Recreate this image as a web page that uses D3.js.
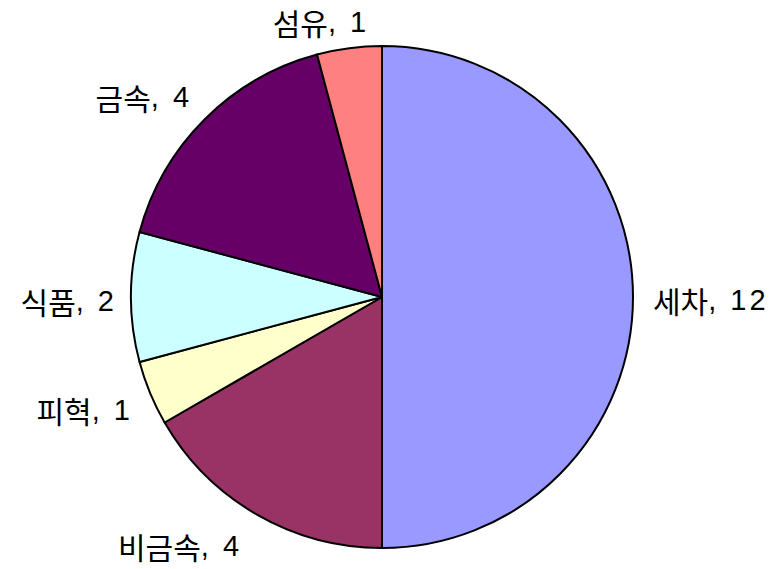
<!DOCTYPE html>
<html>
<head>
<meta charset="utf-8">
<script src="https://cdn.jsdelivr.net/npm/d3@7"></script>
<style>
  body { margin: 0; background: #fff; }
  text { font-family: "Noto Sans CJK KR", sans-serif; fill: #000; }
  tspan.num { font-family: "Liberation Sans", Arial, sans-serif; letter-spacing: 3px; }
</style>
</head>
<body>
<div id="pieChart"></div>
<script>
var categories = ["세차", "비금속", "피혁", "식품", "금속", "섬유"];
var values = [12, 4, 1, 2, 4, 1];
var colors = ["#9999ff", "#993366", "#ffffcc", "#ccffff", "#660066", "#ff8080"];

// label tweaks (pixels) for where Excel pushed labels around
var labelNudge = [[5, 0], [-38, 4], [-7, 3], [1, 1], [-16, -5], [-20, 0]];

var width = 781, height = 569;
var cx = 382, cy = 297, radius = 251;

var svg = d3.select("#pieChart")
  .append("svg")
  .attr("width", width)
  .attr("height", height);

var g = svg.append("g")
  .attr("transform", "translate(" + cx + "," + cy + ")");

var pie = d3.pie()
  .sort(null)
  .value(function (d, i) { return values[i]; });

var arcs = pie(categories);

var arc = d3.arc()
  .innerRadius(0)
  .outerRadius(radius);

g.selectAll("path")
  .data(arcs)
  .enter()
  .append("path")
  .attr("d", arc)
  .attr("fill", function (d, i) { return colors[i]; })
  .attr("stroke", "#000")
  .attr("stroke-width", 2)
  .attr("stroke-linejoin", "round");

// labels outside the pie
var gap = 15, boxH = 28;
var labels = g.selectAll("text.lbl")
  .data(arcs)
  .enter()
  .append("text")
  .attr("class", "lbl")
  .attr("font-size", 30)
  .attr("text-anchor", "middle")
  .attr("dominant-baseline", "central");

labels.append("tspan")
  .text(function (d, i) { return categories[i]; });
labels.append("tspan")
  .attr("class", "num")
  .attr("font-size", 29)
  .text(function (d, i) { return ", " + values[i]; });

labels.each(function (d, i) {
  var a = (d.startAngle + d.endAngle) / 2;
  var w = this.getComputedTextLength();
  var r = radius + gap;
  var x = Math.sin(a) * r + Math.sin(a) * w / 2 + labelNudge[i][0];
  var y = -Math.cos(a) * r - Math.cos(a) * boxH / 2 + 3 + labelNudge[i][1];
  d3.select(this).attr("x", x).attr("y", y);
});
</script>
</body>
</html>
